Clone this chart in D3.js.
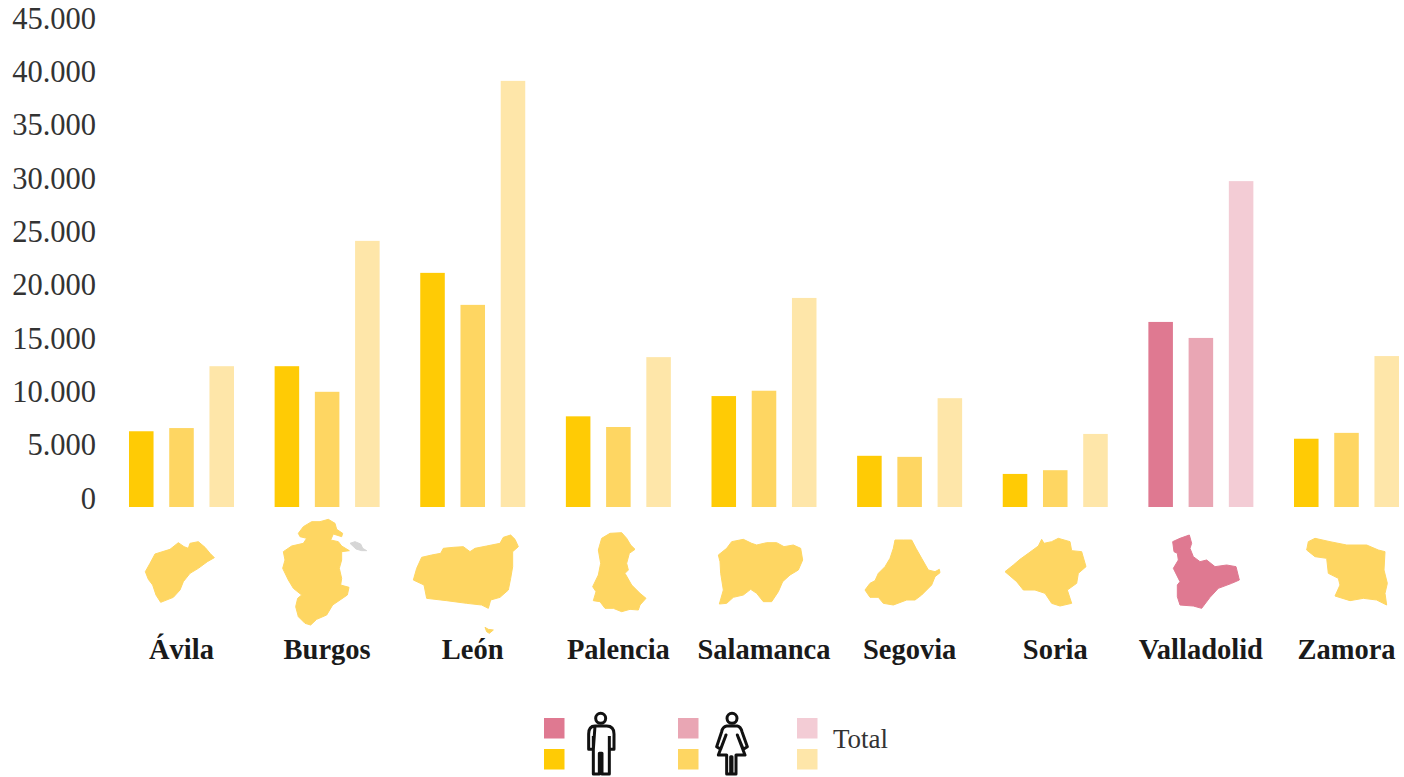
<!DOCTYPE html>
<html>
<head>
<meta charset="utf-8">
<script src="https://cdn.jsdelivr.net/npm/d3@7"></script>
<style>
  body { margin: 0; background: #fff; }
  text { font-family: "Liberation Serif", serif; }
</style>
</head>
<body>
<div id="chart"></div>
<script>
// Data
const provinces = ["Ávila", "Burgos", "León", "Palencia", "Salamanca", "Segovia", "Soria", "Valladolid", "Zamora"];
const men = [7100, 13200, 21950, 8500, 10400, 4800, 3100, 17350, 6400];
const women = [7400, 10800, 18950, 7500, 10900, 4700, 3450, 15850, 6950];
const total = [13200, 24950, 39950, 14050, 19600, 10200, 6850, 30550, 14150];
const yTicks = [0, 5000, 10000, 15000, 20000, 25000, 30000, 35000, 40000, 45000];
const seriesNames = ["men", "women", "total"];
const highlighted = "Valladolid";

// Colours per series
const yellows = ["#ffcb05", "#fed662", "#fee6a9"];
const pinks = ["#df7991", "#e9a6b4", "#f3ccd5"];
const mapYellow = "#fed662";

// Province outlines, traced at 3x from the picture (panel = left edge of the trace)
const outlines = {
  "Ávila": { panel: 120, points: [[76,185],[90,160],[105,132],[150,118],[175,98],[192,110],[205,115],[210,100],[235,95],[255,112],[270,130],[283,143],[262,155],[235,175],[210,190],[190,215],[180,240],[160,262],[122,277],[108,255],[98,225],[85,208]] },
  "Burgos": { panel: 120, points: [[535,70],[550,50],[575,35],[600,35],[625,28],[645,40],[650,58],[668,70],[665,80],[640,72],[632,90],[655,95],[665,108],[688,122],[665,125],[665,150],[658,175],[665,205],[662,225],[687,232],[682,255],[660,270],[638,285],[620,315],[590,328],[572,345],[555,340],[535,320],[527,290],[533,265],[545,255],[520,235],[505,210],[488,175],[495,150],[490,125],[515,108],[550,100],[560,85],[540,80]] },
  "León": { panel: 120, points: [[880,210],[890,175],[905,142],[935,135],[962,130],[970,115],[1000,112],[1030,110],[1050,125],[1065,115],[1100,108],[1140,100],[1150,82],[1172,75],[1185,88],[1195,110],[1178,125],[1178,170],[1172,205],[1165,240],[1140,262],[1112,270],[1105,295],[1085,285],[1040,280],[980,272],[920,265],[912,225]] },
  "Palencia": { panel: 560, points: [[115,120],[125,85],[150,70],[185,68],[200,85],[212,105],[225,118],[208,130],[200,160],[205,180],[195,190],[215,225],[240,250],[258,265],[240,285],[235,300],[210,298],[185,305],[160,295],[135,295],[120,275],[100,272],[108,245],[98,230],[115,195],[122,160]] },
  "Salamanca": { panel: 560, points: [[475,135],[500,115],[515,95],[550,88],[575,100],[590,105],[620,98],[650,98],[672,110],[700,105],[722,115],[728,150],[715,180],[690,195],[668,215],[655,245],[635,275],[610,275],[590,250],[572,238],[550,255],[520,262],[500,280],[478,282],[490,240],[482,190],[480,155]] },
  "Segovia": { panel: 560, points: [[915,240],[930,220],[945,212],[955,190],[975,170],[990,145],[1000,115],[1005,90],[1030,90],[1055,90],[1068,115],[1085,145],[1105,180],[1125,185],[1138,178],[1140,188],[1125,200],[1115,225],[1085,255],[1065,270],[1040,270],[1000,285],[970,280],[955,262],[930,262]] },
  "Soria": { panel: 980, points: [[75,185],[100,165],[120,148],[145,130],[175,108],[185,88],[192,100],[215,95],[235,85],[270,95],[275,122],[305,125],[318,170],[295,190],[290,220],[262,240],[275,280],[240,288],[215,280],[195,250],[165,240],[130,240],[110,215]] },
  "Valladolid": { panel: 980, points: [[578,95],[600,85],[628,75],[635,100],[630,115],[640,140],[660,155],[680,150],[705,170],[740,165],[768,170],[778,210],[755,220],[715,235],[690,262],[665,295],[640,288],[600,285],[592,260],[592,225],[600,215],[580,175],[595,150],[592,130],[582,125]] },
  "Zamora": { panel: 980, points: [[980,120],[985,95],[1005,85],[1050,95],[1100,105],[1160,105],[1195,120],[1215,125],[1212,180],[1222,220],[1215,250],[1220,285],[1190,270],[1150,265],[1110,272],[1065,258],[1080,225],[1075,205],[1045,190],[1040,145],[1005,140]] }
};
// Two stray bits next to Burgos and León
const extraBits = [
  { panel: 120, fill: "#d6d6d6", points: [[690,100],[705,95],[722,102],[728,115],[740,122],[725,122],[708,117]] },
  { panel: 120, fill: mapYellow, points: [[1095,352],[1105,358],[1120,360],[1108,370],[1100,365]] }
];

const svg = d3.select("#chart").append("svg")
  .attr("width", 1404)
  .attr("height", 777);

const x = d3.scaleBand()
  .domain(provinces)
  .range([129, 1399])
  .paddingInner(0.279)
  .paddingOuter(0);

const xInner = d3.scaleBand()
  .domain(seriesNames)
  .range([0, x.bandwidth()])
  .paddingInner(0.39);

const y = d3.scaleLinear()
  .domain([0, 45000])
  .range([507, 27]);

// y axis, the labels sit a bit above their value in the original
const esLocale = d3.formatLocale({ decimal: ",", thousands: ".", grouping: [3], currency: ["", "€"] });
const yAxis = d3.axisLeft(y)
  .tickValues(yTicks)
  .tickFormat(esLocale.format(",d"))
  .tickSize(0)
  .tickPadding(0);

svg.append("g")
  .attr("transform", "translate(96,0)")
  .call(yAxis)
  .call(g => g.select(".domain").remove())
  .call(g => g.selectAll("text")
    .attr("y", -8.5)
    .attr("fill", "#333")
    .style("font-size", "30.5px")
    .style("font-family", '"Liberation Serif", serif'));

// Bars
const values = { men: men, women: women, total: total };
const colorsFor = p => p === highlighted ? pinks : yellows;

seriesNames.forEach((name, s) => {
  svg.append("g").selectAll("rect")
    .data(provinces)
    .enter()
    .append("rect")
    .attr("x", d => x(d) + xInner(name))
    .attr("y", (d, i) => y(values[name][i]))
    .attr("width", xInner.bandwidth())
    .attr("height", (d, i) => y(0) - y(values[name][i]))
    .attr("fill", d => colorsFor(d)[s]);
});

// Province silhouettes, the round stroke softens the traced corners
const outlinePath = d3.line().curve(d3.curveLinearClosed);
const maps = svg.append("g");
const drawOutline = (o, fill) => maps.append("path")
  .attr("transform", `translate(${o.panel},510) scale(${1 / 3})`)
  .attr("d", outlinePath(o.points))
  .attr("fill", fill)
  .attr("stroke", fill)
  .attr("stroke-width", 3)
  .attr("stroke-linejoin", "round");

provinces.forEach(p => drawOutline(outlines[p], p === highlighted ? pinks[0] : mapYellow));
extraBits.forEach(b => drawOutline(b, b.fill));

// Province names
svg.append("g").selectAll("text")
  .data(provinces)
  .enter()
  .append("text")
  .attr("x", d => x(d) + x.bandwidth() / 2)
  .attr("y", 659)
  .attr("text-anchor", "middle")
  .attr("font-size", 28.5)
  .attr("font-weight", 700)
  .attr("fill", "#1a1a1a")
  .text(d => d);

// Legend
const legendX = d3.scaleOrdinal().domain(seriesNames).range([544, 678, 797]);
const legend = svg.append("g");
seriesNames.forEach((name, s) => {
  [pinks[s], yellows[s]].forEach((c, row) => {
    legend.append("rect")
      .attr("x", legendX(name))
      .attr("y", row === 0 ? 718 : 749)
      .attr("width", 20.5)
      .attr("height", 20.5)
      .attr("fill", c);
  });
});

legend.append("text")
  .attr("x", 833)
  .attr("y", 748)
  .attr("font-size", 27)
  .attr("fill", "#333")
  .text("Total");

// Man and woman icons, traced at 3x as well
const icons = legend.append("g")
  .attr("transform", `translate(530,700) scale(${1 / 3})`)
  .attr("fill", "none")
  .attr("stroke", "#111")
  .attr("stroke-width", 9)
  .attr("stroke-linejoin", "round");

icons.append("circle").attr("cx", 212).attr("cy", 55).attr("r", 15);
icons.append("path")
  .attr("d", "M195 78 H230 Q252 78 252 102 V148 H238 V108 M238 148 V222 H216 V160 H208 V222 H190 V148 V108 M190 148 H176 V102 Q176 78 195 78 Z");

icons.append("circle").attr("cx", 606).attr("cy", 55).attr("r", 15);
icons.append("path")
  .attr("d", "M590 78 H622 Q632 80 636 95 L652 140 L640 148 L622 105 L645 165 H618 V222 H606 V170 H602 V222 H590 V165 H565 L588 105 L572 148 L560 140 L575 95 Q578 80 590 78 Z");
</script>
</body>
</html>
